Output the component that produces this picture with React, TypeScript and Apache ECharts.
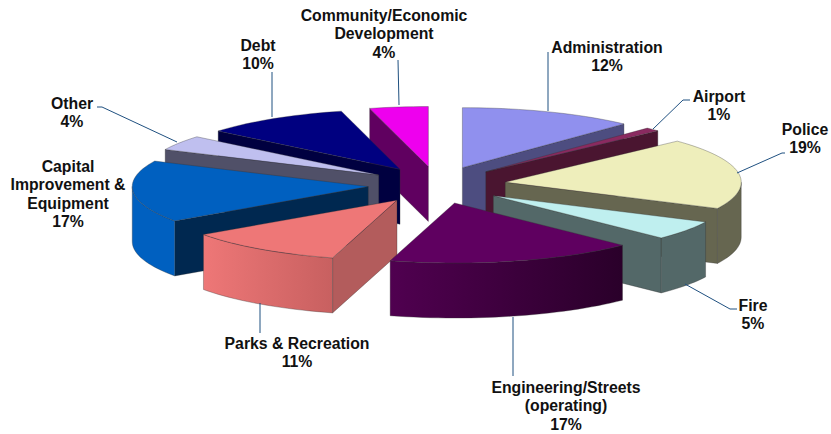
import React, { useEffect, useRef } from "react";
import * as echarts from "echarts";

const categories = ["Administration", "Airport", "Police", "Fire", "Engineering/Streets", "Parks & Recreation", "Capital Improvement & Equipment", "Other", "Debt", "Community/Economic Development"];
const values = [12, 1, 19.2, 5.2, 17, 10.9, 16.7, 4, 10, 4];
const labelLines = [
  ["Administration"], ["Airport"], ["Police"], ["Fire"], ["Engineering/Streets", "(operating)"],
  ["Parks & Recreation"], ["Capital", "Improvement &", "Equipment"], ["Other"], ["Debt"], ["Community/Economic", "Development"],
];

const topColors = ["#9090EE", "#8A2A60", "#EEEEBB", "#BFEFEF", "#5F0060", "#EE7777", "#0060C0", "#BFBFEF", "#000080", "#EE00EE"];
const sideColors = ["#4D4D80", "#4A1530", "#666650", "#536868", "#500050", "#B35C5C", "#002850", "#505068", "#000040", "#600060"];
const rimStart = ["#4D4D80", "#4A1530", "#666650", "#536868", "#500050", "#EE7777", "#0060C0", "#505068", "#000040", "#600060"];
const rimEnd = ["#4D4D80", "#4A1530", "#666650", "#536868", "#2A002A", "#C86060", "#0060C0", "#505068", "#000040", "#600060"];

const labelAnchors: number[][] = [[607, 38], [719, 87], [805, 120], [753, 296], [566, 378], [297, 334], [68, 157], [72, 94], [258, 36], [384, 6]];
const leaders: number[][][] = [
  [[548, 52], [548, 111]],
  [[690, 100], [683, 100], [653, 129]],
  [[785, 153], [782, 153], [737, 173]],
  [[737, 309], [730, 309], [685, 284]],
  [[513, 317], [513, 376]],
  [[260, 303], [260, 333]],
  [],
  [[97, 107], [102, 107], [177, 142]],
  [[272, 72], [272, 117]],
  [[398, 60], [399, 105]],
];

const CX = 437, CY = 185, EXPLODE = 69, EXPLODE_TILT = 0.27;
const RX = 236, RY = 60, DEPTH = 55;
const rad = (d: number) => (d * Math.PI) / 180;
const total = values.reduce((a, b) => a + b, 0);
const starts = values.map((_, i) => (values.slice(0, i).reduce((a, b) => a + b, 0) / total) * 360);
const mid = (i: number) => starts[i] + (values[i] / total) * 180;
const drawOrder = values.map((_, i) => i).sort((a, b) => Math.cos(rad(mid(b))) - Math.cos(rad(mid(a))));

const EDGE = "rgba(50,50,50,0.55)";

function sliceElements(i: number, value: number) {
  const a1 = starts[i];
  const a2 = a1 + (value / total) * 360;
  const m = rad(mid(i));
  const ax = CX + EXPLODE * Math.sin(m);
  const ay = CY - EXPLODE * EXPLODE_TILT * Math.cos(m);
  const pt = (deg: number, h = 0) => [ax + RX * Math.sin(rad(deg)), ay - RY * Math.cos(rad(deg)) + h];
  const arc = (from: number, to: number, h = 0) => {
    const n = Math.max(2, Math.ceil(Math.abs(to - from) / 2));
    return Array.from({ length: n + 1 }, (_, k) => pt(from + ((to - from) * k) / n, h));
  };
  const base = { stroke: EDGE, lineWidth: 0.6 };
  const els: any[] = [];
  const wall = (deg: number) => ({
    type: "polygon",
    shape: { points: [[ax, ay], pt(deg), pt(deg, DEPTH), [ax, ay + DEPTH]] },
    style: { ...base, fill: sideColors[i] },
  });
  if (Math.sin(rad(a1)) < -1e-6) els.push(wall(a1));
  if (Math.sin(rad(a2)) > 1e-6) els.push(wall(a2));
  const f = Math.max(a1, 90), t = Math.min(a2, 270);
  if (f < t) {
    els.push({
      type: "polygon",
      shape: { points: [...arc(f, t), ...arc(t, f, DEPTH)] },
      style: {
        ...base,
        fill: new echarts.graphic.LinearGradient(f > 180 ? 1 : 0, 0, f > 180 ? 0 : 1, 0, [
          { offset: 0, color: f > 180 ? rimEnd[i] : rimStart[i] },
          { offset: 1, color: f > 180 ? rimStart[i] : rimEnd[i] },
        ]),
      },
    });
  }
  els.push({
    type: "polygon",
    shape: { points: [[ax, ay], ...arc(a1, a2)] },
    style: { ...base, fill: topColors[i] },
  });
  return els;
}

export default function App() {
  const ref = useRef<HTMLDivElement>(null);
  useEffect(() => {
    document.body.style.margin = "0";
    const chart = echarts.init(ref.current!, null, { renderer: "svg" });
    chart.setOption({
      animation: false,
      backgroundColor: "#ffffff",
      series: [
        {
          type: "custom",
          coordinateSystem: "none",
          silent: true,
          data: drawOrder.map((i) => ({ name: categories[i], value: [i, values[i]] })),
          renderItem: (_p: any, api: any) => ({
            type: "group",
            children: sliceElements(api.value(0), api.value(1)),
          }),
        },
      ],
      graphic: [
        ...leaders.filter((l) => l.length).map((pts) => ({
          type: "polyline",
          silent: true,
          z: 10,
          shape: { points: pts },
          style: { stroke: "#1F5080", lineWidth: 1, fill: "none" },
        })),
        ...values.map((v, i) => ({
          type: "text",
          silent: true,
          z: 11,
          x: labelAnchors[i][0],
          y: labelAnchors[i][1],
          style: {
            text: [...labelLines[i], `${Math.round(v)}%`].join("\n"),
            fill: "#111111",
            font: "bold 15.8px 'Liberation Sans', Arial, sans-serif",
            lineHeight: 18.5,
            align: "center",
            verticalAlign: "top",
          },
        })),
      ],
    });
    return () => chart.dispose();
  }, []);
  return <div ref={ref} style={{ position: "absolute", left: 0, top: 0, width: 831, height: 434 }} />;
}
